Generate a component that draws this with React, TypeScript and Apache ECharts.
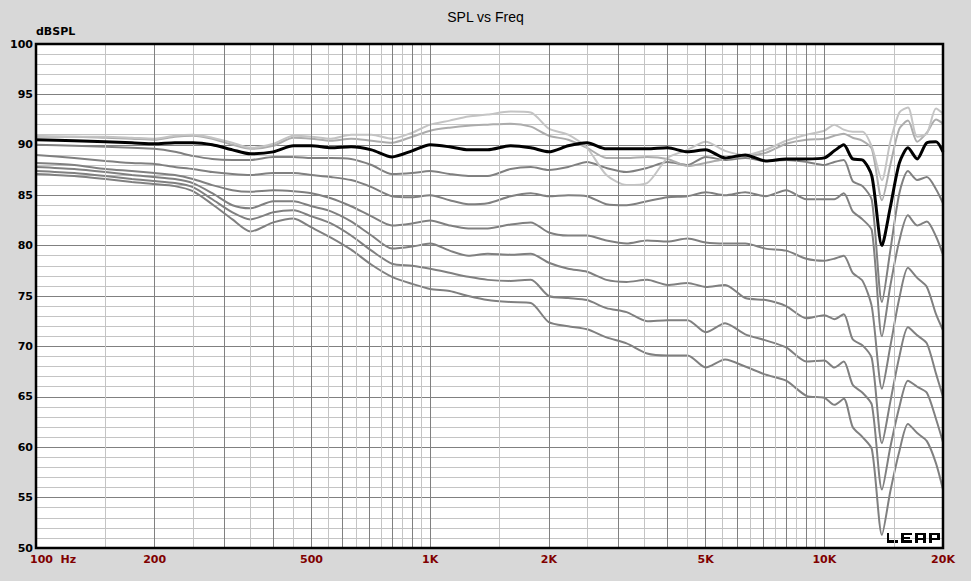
import React, { useEffect, useRef } from "react";
import * as echarts from "echarts";

// ---------- data ----------
const FREQ_HZ = [
  100, 125, 150, 175, 200, 225, 250, 280, 315, 350,
  400, 450, 500, 560, 630, 710, 800, 900, 1000, 1120,
  1250, 1400, 1600, 1800, 2000, 2240, 2500, 2800, 3150, 3550,
  4000, 4500, 5000, 5600, 6300, 7100, 8000, 9000, 10000, 10600,
  11200, 11800, 12500, 13200, 14000, 14700, 15500, 16300, 17200, 18200,
  19200, 20000,
];

const ON_AXIS = [
  90.5, 90.4, 90.3, 90.2, 90.1, 90.2, 90.2, 90.0, 89.5, 89.1,
  89.3, 89.9, 89.9, 89.7, 89.8, 89.5, 88.8, 89.4, 90.0, 89.8,
  89.5, 89.5, 89.9, 89.7, 89.3, 89.9, 90.2, 89.6, 89.6, 89.6,
  89.7, 89.3, 89.5, 88.7, 89.0, 88.4, 88.6, 88.6, 88.7, 89.4,
  90.0, 88.6, 88.5, 86.9, 80.0, 83.8, 88.2, 89.7, 88.6, 90.2,
  90.3, 89.3,
];

const LIGHT_A = [
  90.9, 90.8, 90.8, 90.7, 90.6, 90.9, 91.0, 90.7, 90.2, 89.7,
  90.1, 90.9, 90.8, 90.6, 91.0, 91.0, 90.6, 91.2, 92.0, 92.4,
  92.8, 93.0, 93.3, 93.2, 91.6, 91.0, 89.7, 87.0, 86.0, 86.2,
  88.7, 89.5, 90.3, 89.4, 89.0, 89.5, 90.4, 91.0, 91.4, 92.0,
  91.5, 91.3, 91.3, 89.8, 86.5, 90.3, 93.2, 93.7, 90.8, 91.1,
  93.6, 93.1,
];

const LIGHT_B = [
  90.8, 90.8, 90.7, 90.6, 90.5, 90.8, 90.9, 90.6, 90.0, 89.6,
  89.9, 90.7, 90.6, 90.4, 90.6, 90.4, 90.2, 90.8, 91.4, 91.7,
  91.9, 92.0, 92.1, 91.8, 90.9, 90.5, 89.7, 88.7, 88.7, 88.8,
  88.6, 87.9, 88.2, 88.6, 88.9, 89.2, 90.1, 90.5, 90.6, 90.9,
  91.1, 90.7, 90.4, 89.6, 84.5, 88.0, 91.6, 92.4, 90.3, 91.2,
  92.5, 92.1,
];

const OFF_1 = [
  90.0, 89.9, 89.8, 89.7, 89.6, 89.3, 88.9, 88.6, 88.5, 88.5,
  88.8, 88.8, 88.7, 88.7, 88.6, 88.0, 87.1, 87.2, 87.4, 87.1,
  86.9, 86.9, 87.6, 87.8, 87.5, 87.8, 88.3, 87.7, 87.3, 87.7,
  88.3, 88.0, 88.8, 88.5, 88.7, 88.4, 88.5, 88.3, 88.0, 88.3,
  88.5, 86.4, 85.9, 84.5, 74.4, 79.5, 85.2, 87.4, 86.5, 86.8,
  85.6, 84.2,
];

const OFF_2 = [
  89.0, 88.7, 88.4, 88.2, 88.1, 87.8, 87.6, 87.3, 87.1, 87.0,
  87.2, 87.2, 87.0, 86.8, 86.5, 85.8, 84.9, 84.8, 85.0, 84.5,
  84.1, 84.2, 84.9, 85.2, 84.9, 85.0, 84.9, 84.1, 84.0, 84.4,
  84.8, 84.9, 85.3, 85.0, 85.3, 84.9, 85.5, 84.6, 84.6, 84.6,
  85.2, 83.4, 82.6, 81.5, 71.0, 76.0, 80.5, 83.0, 82.0, 82.4,
  80.9, 79.1,
];

const OFF_3 = [
  88.2, 88.0, 87.6, 87.4, 87.2, 87.0, 86.6, 86.0, 85.5, 85.35,
  85.5, 85.4, 85.2, 84.7, 83.9, 82.9, 82.0, 82.2, 82.5, 82.0,
  81.7, 81.7, 82.1, 82.3, 81.3, 81.0, 81.0, 80.5, 80.2, 80.5,
  80.4, 80.7, 80.3, 80.2, 80.2, 79.7, 79.5, 78.7, 78.5, 78.7,
  79.0, 77.3, 76.5, 73.9, 65.8, 70.0, 74.8, 77.8, 76.8, 75.9,
  73.2, 71.6,
];

const OFF_4 = [
  87.8, 87.6, 87.3, 87.0, 86.8, 86.6, 86.2, 85.2, 84.0, 83.7,
  84.4, 84.4, 83.9, 83.4, 82.4, 81.0, 79.7, 79.9, 80.2, 79.5,
  79.0, 79.2, 79.1, 79.2, 78.3, 77.7, 77.4, 76.6, 76.4, 76.6,
  76.1, 76.3, 75.9, 76.1, 74.8, 74.6, 74.0, 72.8, 73.1, 72.7,
  73.2, 70.7, 70.1, 68.8, 60.4, 64.5, 69.0, 71.9, 71.1, 70.3,
  67.3, 65.0,
];

const OFF_5 = [
  87.4, 87.2, 86.9, 86.6, 86.4, 86.2, 85.8, 84.6, 83.3, 82.6,
  83.3, 83.5, 82.9, 82.2, 81.0, 79.5, 78.2, 78.0, 77.7, 77.3,
  76.9, 76.6, 76.5, 76.6, 75.0, 74.8, 74.6, 73.8, 73.4, 72.5,
  72.6, 72.6, 71.4, 72.3, 71.2, 70.6, 69.9, 68.5, 68.6, 67.9,
  68.5, 66.2, 65.4, 64.2, 55.8, 60.0, 64.0, 66.6, 66.0, 65.4,
  62.8, 60.5,
];

const OFF_6 = [
  87.1, 86.9, 86.6, 86.3, 86.1, 85.9, 85.4, 84.1, 82.6, 81.4,
  82.3, 82.7, 81.8, 80.8, 79.6, 78.1, 76.9, 76.2, 75.7, 75.5,
  75.0, 74.6, 74.4, 74.3, 72.4, 72.0, 71.7, 70.9, 70.3, 69.3,
  69.1, 69.1, 67.9, 68.7, 68.0, 67.2, 66.6, 65.1, 64.9, 64.2,
  64.8, 62.0, 61.0, 59.8, 51.3, 55.6, 59.6, 62.3, 61.4, 60.6,
  58.4, 55.8,
];

const X_LABEL_FREQS = [100, 200, 500, 1000, 2000, 5000, 10000, 20000];
const X_LABEL_TEXT = ["100\u00a0\u00a0Hz", "200", "500", "1K", "2K", "5K", "10K", "20K"];

const GRID_MAJOR_HZ = [
  200, 300, 400, 500, 600, 700, 800, 900, 1000,
  2000, 3000, 4000, 5000, 6000, 7000, 8000, 9000, 10000,
];
const GRID_MINOR_HZ = [
  150, 250, 350, 450, 550, 650, 750, 850, 950,
  1500, 2500, 3500, 4500, 5500, 6500, 7500, 8500, 9500,
  15000,
];

const Y_MIN = 50;
const Y_MAX = 100;
const Y_STEP = 5;

// ---------- chart ----------
const pairs = (vals: number[]) => FREQ_HZ.map((f, i) => [f, vals[i]]);

const curve = (name: string, vals: number[], color: string, width: number, z: number) => ({
  type: "line",
  name,
  data: pairs(vals),
  symbol: "none",
  showSymbol: false,
  smooth: 0.25,
  silent: true,
  z,
  lineStyle: { color, width },
});

const vLines = (freqs: number[], color: string) => ({
  type: "line",
  data: [],
  silent: true,
  z: 1,
  markLine: {
    silent: true,
    symbol: ["none", "none"],
    label: { show: false },
    lineStyle: { color, width: 1, type: "solid" },
    emphasis: { disabled: true },
    animation: false,
    data: freqs.map((f) => ({ xAxis: f })),
  },
});

export default function App() {
  const ref = useRef<HTMLDivElement | null>(null);

  useEffect(() => {
    if (!ref.current) return;
    const chart = echarts.init(ref.current, null, { renderer: "svg" });
    chart.setOption({
      animation: false,
      backgroundColor: "#d8d8d8",
      title: {
        text: "SPL vs Freq",
        left: "center",
        top: 5,
        textStyle: {
          fontFamily: "Liberation Sans",
          fontSize: 14,
          fontWeight: "normal",
          color: "#000",
        },
      },
      grid: {
        left: 36,
        top: 44,
        right: 28,
        bottom: 33,
        show: true,
        backgroundColor: "#ffffff",
        borderWidth: 0,
      },
      xAxis: {
        type: "log",
        logBase: 10,
        min: 100,
        max: 20000,
        axisLine: { show: false },
        axisTick: { show: false },
        axisLabel: { show: false },
        splitLine: { show: false },
      },
      yAxis: {
        type: "value",
        min: Y_MIN,
        max: Y_MAX,
        interval: Y_STEP,
        name: "dBSPL",
        nameLocation: "end",
        nameGap: 7,
        nameTextStyle: {
          align: "left",
          verticalAlign: "bottom",
          fontFamily: "DejaVu Sans",
          fontWeight: "bold",
          fontSize: 11,
          color: "#000",
        },
        axisLine: { show: false },
        axisTick: { show: false },
        axisLabel: {
          color: "#000",
          fontFamily: "DejaVu Sans",
          fontWeight: "bold",
          fontSize: 11,
          margin: 3,
        },
        splitLine: { show: true, lineStyle: { color: "#808080", width: 1 } },
        minorTick: { show: false, splitNumber: 5 },
        minorSplitLine: { show: true, lineStyle: { color: "#c4c4c4", width: 1 } },
      },
      series: [
        vLines(GRID_MINOR_HZ, "#c4c4c4"),
        vLines(GRID_MAJOR_HZ, "#808080"),
        curve("off6", OFF_6, "#808080", 2, 3),
        curve("off5", OFF_5, "#808080", 2, 3),
        curve("off4", OFF_4, "#808080", 2, 3),
        curve("off3", OFF_3, "#808080", 2, 3),
        curve("off2", OFF_2, "#808080", 2, 3),
        curve("off1", OFF_1, "#808080", 2, 3),
        curve("lightB", LIGHT_B, "#acacac", 2, 4),
        curve("lightA", LIGHT_A, "#c4c4c4", 2, 4),
        curve("onAxis", ON_AXIS, "#000000", 3, 5),
      ],
    });

    const px = (f: number, v: number) =>
      chart.convertToPixel({ xAxisIndex: 0, yAxisIndex: 0 }, [f, v]) as number[];
    const tl = px(100, Y_MAX);
    const br = px(20000, Y_MIN);

    const labels = X_LABEL_FREQS.map((f, i) => {
      const p = px(f, Y_MIN);
      return {
        type: "text",
        x: i === 0 ? p[0] - 6 : p[0],
        y: p[1] + 11,
        z: 50,
        style: {
          text: X_LABEL_TEXT[i],
          fill: "#800000",
          font: 'bold 11px "DejaVu Sans"',
          align: i === 0 ? "left" : "center",
          verticalAlign: "middle",
        },
      };
    });

    const lx = br[0] - 56;
    const ly = br[1] - 15;
    const r = (x: number, y: number, w: number, h: number) => ({
      type: "rect",
      shape: { x, y, width: w, height: h },
      style: { fill: "#000" },
    });
    const logo = {
      type: "group",
      x: lx,
      y: ly,
      z: 60,
      children: [
        // L
        r(0, 0, 2, 10), r(0, 7, 11, 3),
        // E
        r(14, 0, 3, 10), r(14, 0, 11, 2), r(14, 4, 9, 2), r(14, 7, 11, 3),
        // A
        r(28, 0, 11, 2), r(28, 0, 3, 10), r(36, 0, 3, 10), r(28, 5, 11, 2),
        // P
        r(42, 0, 11, 2), r(42, 0, 3, 10), r(50, 0, 3, 7), r(42, 5, 11, 2),
      ],
    };

    chart.setOption({
      graphic: [
        ...labels,
        {
          type: "rect",
          z: 70,
          shape: { x: tl[0], y: tl[1], width: br[0] - tl[0], height: br[1] - tl[1] },
          style: { fill: "none", stroke: "#000", lineWidth: 2.5 },
        },
        logo,
      ],
    });

    return () => chart.dispose();
  }, []);

  return (
    <div
      ref={ref}
      style={{ position: "fixed", left: 0, top: 0, width: 971, height: 581 }}
    />
  );
}
